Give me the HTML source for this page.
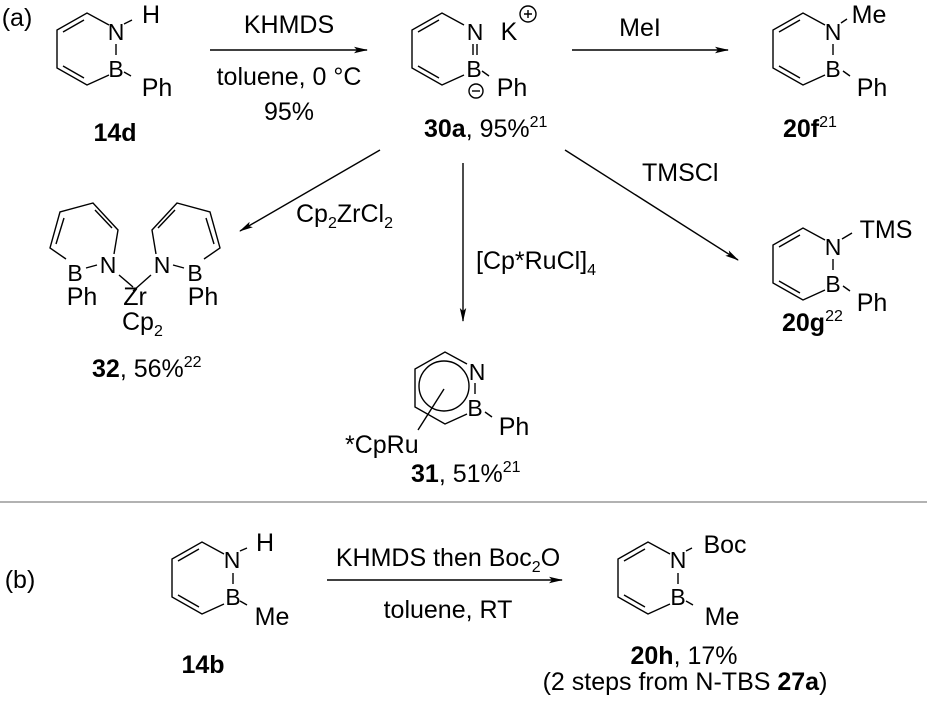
<!DOCTYPE html>
<html><head><meta charset="utf-8"><style>
html,body{margin:0;padding:0;background:#fff;}
svg{display:block;}
text{font-family:"Liberation Sans",Arial,sans-serif;font-size:25px;fill:#000;}
.a{font-size:23px;}
.c{text-anchor:middle;dominant-baseline:central;}
.b{font-weight:bold;}
.s{font-size:16px;}
</style></head><body>
<svg width="927" height="714" viewBox="0 0 927 714" xmlns="http://www.w3.org/2000/svg">
<defs>
<marker id="ah" viewBox="0 0 14 8" refX="13" refY="4" markerWidth="14" markerHeight="8" markerUnits="userSpaceOnUse" orient="auto">
<path d="M0,0.8 L14,4 L0,7.2 L3,4 Z" fill="#000"/></marker>
</defs>
<g stroke="#000" stroke-width="1.4" fill="none">
<g transform="translate(87,13)">
<path d="M22,12 L0,0 L-30,17 L-30,55 L0,72 L22,62"/><path d="M-3,7 L-24,19 M-24,53 L-3,65"/><path d="M29,31 L29,42"/></g>
<g transform="translate(442,13)">
<path d="M22,12 L0,0 L-30,17 L-30,55 L0,72 L22,62"/><path d="M-3,7 L-24,19 M-24,53 L-3,65"/><path d="M31,31 L31,42 M35,31 L35,42"/></g>
<g transform="translate(803,13)">
<path d="M22,12 L0,0 L-30,17 L-30,55 L0,72 L22,62"/><path d="M-3,7 L-24,19 M-24,53 L-3,65"/><path d="M30,31 L30,42"/></g>
<g transform="translate(803,228)">
<path d="M22,12 L0,0 L-30,17 L-30,55 L0,72 L22,62"/><path d="M-3,7 L-24,19 M-24,53 L-3,65"/><path d="M30,31 L30,42"/></g>
<g transform="translate(445,352)">
<path d="M22,12 L0,0 L-30,17 L-30,55 L0,72 L22,62"/><path d="M30,31 L30,42"/><circle cx="-1" cy="34" r="25"/><path d="M-1,37 L-27,78"/></g>
<g transform="translate(202,542)">
<path d="M22,12 L0,0 L-30,17 L-30,55 L0,72 L22,62"/><path d="M-3,7 L-24,19 M-24,53 L-3,65"/><path d="M31,31 L31,42"/></g>
<g transform="translate(648,542)">
<path d="M22,12 L0,0 L-30,17 L-30,55 L0,72 L22,62"/><path d="M-3,7 L-24,19 M-24,53 L-3,65"/><path d="M30,31 L30,42"/></g>
<path d="M124,24 L132,20 M124,72 L131,76"/>
<path d="M482,71 L489,76"/>
<path d="M841,23 L847,19 M843,71 L850,76"/>
<path d="M842,239 L852,233 M843,286 L850,291"/>
<path d="M485,412 L492,417"/>
<path d="M240,551 L247,548 M240,601 L247,605"/>
<path d="M686,551 L692,548 M686,601 L693,605"/>
<circle cx="528" cy="14" r="8"/><path d="M524,14 L532,14 M528,10 L528,18"/>
<circle cx="476" cy="91" r="7"/><path d="M472,91 L480,91"/>
<path d="M66,259 L50,248 L60,212 L93,203 L118,230 L114,254"/>
<path d="M64,218 L56,244 M95,210 L112,228"/>
<path d="M204,259 L220,248 L210,212 L177,203 L152,230 L156,254"/>
<path d="M206,218 L214,244 M175,210 L158,228"/>
<path d="M86,268 L97,265 M173,265 L184,268"/>
<path d="M119,275 L133,287 M151,275 L133,291"/>
<path d="M210,50 L367,50" marker-end="url(#ah)"/>
<path d="M572,50 L728,50" marker-end="url(#ah)"/>
<path d="M380,150 L240,231" marker-end="url(#ah)"/>
<path d="M463,163 L463,321" marker-end="url(#ah)"/>
<path d="M565,150 L738,260" marker-end="url(#ah)"/>
<path d="M327,580 L562,580" marker-end="url(#ah)"/>
</g>
<line x1="0" y1="502" x2="927" y2="502" stroke="#666" stroke-width="1"/>

<text class="c" x="17" y="18">(a)</text>
<text class="c" x="20" y="580">(b)</text>
<text class="c a" x="116" y="32">N</text><text class="c a" x="116" y="69">B</text>
<text class="c" x="151" y="15">H</text><text class="c" x="157" y="88">Ph</text>
<text class="c b" x="115" y="133">14d</text>
<text class="c" x="289" y="25">KHMDS</text>
<text class="c" x="289" y="77">toluene, 0 °C</text>
<text class="c" x="289" y="112">95%</text>
<text class="c a" x="475" y="32">N</text><text class="c a" x="474" y="69">B</text>
<text class="c" x="509" y="32">K</text><text class="c" x="512" y="88">Ph</text>
<text x="424" y="137"><tspan class="b">30a</tspan>, 95%<tspan class="s" dy="-10">21</tspan></text>
<text class="c" x="640" y="28">MeI</text>
<text class="c a" x="833" y="32">N</text><text class="c a" x="833" y="69">B</text>
<text class="c" x="869" y="15">Me</text><text class="c" x="872" y="88">Ph</text>
<text x="783" y="137"><tspan class="b">20f</tspan><tspan class="s" dy="-10">21</tspan></text>
<text x="642" y="181">TMSCl</text>
<text class="c a" x="833" y="247">N</text><text class="c a" x="833" y="284">B</text>
<text class="c" x="886" y="230">TMS</text><text class="c" x="872" y="303">Ph</text>
<text x="782" y="331"><tspan class="b">20g</tspan><tspan class="s" dy="-10">22</tspan></text>
<text x="296" y="222">Cp<tspan class="s" dy="6">2</tspan><tspan dy="-6">ZrCl</tspan><tspan class="s" dy="6">2</tspan></text>
<text class="c a" x="75" y="273">B</text><text class="c a" x="108" y="265">N</text>
<text class="c a" x="162" y="265">N</text><text class="c a" x="195" y="273">B</text>
<text class="c" x="82" y="297">Ph</text><text class="c" x="135" y="297">Zr</text><text class="c" x="203" y="297">Ph</text>
<text x="122" y="330">Cp<tspan class="s" dy="6">2</tspan></text>
<text x="92" y="377"><tspan class="b">32</tspan>, 56%<tspan class="s" dy="-10">22</tspan></text>
<text x="476" y="269">[Cp*RuCl]<tspan class="s" dy="6">4</tspan></text>
<text class="c a" x="477" y="372">N</text><text class="c a" x="475" y="408">B</text>
<text class="c" x="514" y="427">Ph</text>
<text x="345" y="453">*CpRu</text>
<text x="411" y="482"><tspan class="b">31</tspan>, 51%<tspan class="s" dy="-10">21</tspan></text>
<text class="c a" x="232" y="560">N</text><text class="c a" x="233" y="597">B</text>
<text class="c" x="265" y="543">H</text><text class="c" x="272" y="617">Me</text>
<text class="c b" x="203" y="665">14b</text>
<text x="448" y="566" text-anchor="middle">KHMDS then Boc<tspan class="s" dy="6">2</tspan><tspan dy="-6">O</tspan></text>
<text class="c" x="448" y="610">toluene, RT</text>
<text class="c a" x="678" y="560">N</text><text class="c a" x="678" y="597">B</text>
<text class="c" x="725" y="545">Boc</text><text class="c" x="722" y="617">Me</text>
<text x="684" y="664" text-anchor="middle"><tspan class="b">20h</tspan>, 17%</text>
<text x="685" y="690" text-anchor="middle">(2 steps from N-TBS <tspan class="b">27a</tspan>)</text>
</svg>
</body></html>
